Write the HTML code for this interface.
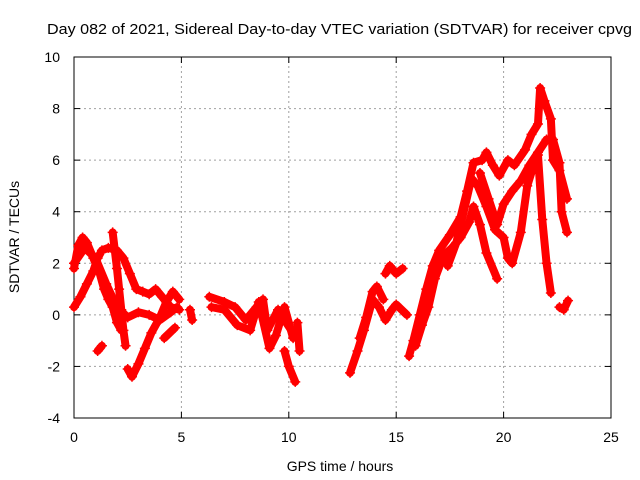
<!DOCTYPE html>
<html><head><meta charset="utf-8"><style>
body{margin:0;background:#fff}
svg{display:block;font-family:"Liberation Sans",sans-serif}
</style></head><body>
<svg id="chart" width="640" height="480" viewBox="0 0 640 480">
<rect width="640" height="480" fill="#fff"/>
<text x="47" y="34" font-size="15" textLength="585" lengthAdjust="spacingAndGlyphs">Day 082 of 2021, Sidereal Day-to-day VTEC variation (SDTVAR) for receiver cpvg</text>
<g id="grid"></g>
<g id="axes"></g>
<g id="marks"></g>
<text x="340" y="471" font-size="14" text-anchor="middle">GPS time / hours</text>
<text x="0" y="0" font-size="14" text-anchor="middle" transform="translate(19,237) rotate(-90)">SDTVAR / TECUs</text>
</svg>
<script>
const xTicks=[0,5,10,15,20,25];
const yTicks=[-4,-2,0,2,4,6,8,10];
const tracks=[
[[0,0.3],[0.3,0.7],[0.6,1.2],[0.9,1.7],[1.1,2.2],[1.3,2.5],[1.6,2.6],[2,2.5],[2.3,2.2],[2.6,1.6],[2.9,1.0],[3.2,0.9],[3.5,0.8],[3.8,1.0],[4.1,0.7],[4.5,0.3],[4.9,0.2]],
[[0,1.8],[0.2,2.7],[0.4,3.0],[0.6,2.8],[0.9,2.2],[1.2,1.6],[1.4,1.0],[1.6,0.6],[1.8,0.3],[2.0,-0.3],[2.2,-0.6]],
[[0,2.0],[0.5,2.6],[1,2.2],[1.5,1.2],[2,0.3],[2.5,-0.1],[3,0.1],[3.5,0.0],[4,-0.2],[4.5,0.1],[4.8,0.3]],
[[1.8,3.2],[1.9,2.5],[2.0,1.8],[2.1,1.0],[2.2,0.2],[2.3,-0.6],[2.4,-1.2]],
[[2.5,-2.1],[2.7,-2.4],[3.0,-1.9],[3.3,-1.3],[3.6,-0.7],[4.0,-0.1],[4.3,0.5],[4.6,0.9],[4.9,0.6]],
[[1.1,-1.4],[1.3,-1.2]],
[[4.2,-0.9],[4.7,-0.5]],
[[5.4,0.2],[5.5,-0.2]],
[[6.3,0.7],[7,0.5],[7.5,0.3],[8,-0.2],[8.5,0.3],[8.8,0.6],[9,-0.6],[9.5,0.2],[9.8,-0.2],[10.2,-0.7]],
[[6.4,0.3],[7,0.2],[7.6,-0.4],[8.2,-0.6],[8.6,0.5],[9.1,-1.3],[9.4,-0.8],[9.8,0.3],[10.2,-0.9]],
[[9.8,-1.4],[10.0,-2.0],[10.3,-2.6]],
[[10.4,-0.3],[10.5,-1.4]],
[[12.85,-2.25],[13.2,-1.4],[13.5,-0.6],[13.9,0.6],[14.2,0.3],[14.5,-0.2],[14.8,0.2],[15.0,0.4],[15.5,0.0]],
[[13.3,-0.9],[13.6,-0.1],[13.9,0.9],[14.1,1.1],[14.4,0.6]],
[[14.5,1.6],[14.7,1.9],[15.0,1.6],[15.3,1.8]],
[[15.6,-1.6],[15.8,-1.0],[16.1,0.0],[16.4,1.0],[16.7,1.9],[17.0,2.5],[17.5,3.1],[18.0,3.8],[18.3,4.8],[18.6,5.9],[19.0,6.0],[19.2,6.3],[19.5,5.8],[19.8,5.4],[20.2,6.0],[20.5,5.8],[21.0,6.4],[21.3,7.0],[21.6,7.4],[21.7,8.8],[21.9,8.3],[22.2,7.6],[22.3,6.0],[22.6,5.6],[22.95,4.5]],
[[15.9,-1.2],[16.2,-0.4],[16.5,0.3],[16.8,1.4],[17.2,2.3],[17.6,2.6],[18.0,3.0],[18.4,3.6],[18.6,4.2],[18.9,3.5],[19.2,2.4],[19.7,1.4]],
[[17.4,1.9],[17.8,2.8],[18.2,4.2],[18.5,5.3],[18.8,5.0],[19.2,4.2],[19.6,3.3],[20.0,3.0],[20.2,2.2],[20.4,2.0],[20.8,3.2],[21.1,5.0],[21.4,5.8],[21.6,6.2],[21.8,3.7],[22.0,2.0],[22.2,0.85]],
[[18.9,5.5],[19.3,4.5],[19.7,3.5],[20.0,4.3],[20.4,4.8],[20.8,5.2],[21.2,5.8],[21.6,6.3],[22.0,6.8],[22.3,6.8],[22.6,5.9],[22.7,4.0],[22.95,3.2]],
[[22.6,0.3],[22.8,0.2],[23.0,0.55]]
];
const NS="http://www.w3.org/2000/svg";
const X0=74,X1=611,Y0=418,Y1=57;
function sx(v){return X0+(v-0)/(25-0)*(X1-X0);}
function sy(v){return Y0-(v+4)/(14)*(Y0-Y1);}
function mk(t,a){const e=document.createElementNS(NS,t);for(const k in a)e.setAttribute(k,a[k]);return e;}
const grid=document.getElementById('grid'),axes=document.getElementById('axes'),marks=document.getElementById('marks');
xTicks.forEach(t=>{
  const x=sx(t);
  if(t>0&&t<25){const g=mk('line',{x1:x,y1:Y0,x2:x,y2:Y1,stroke:'#a0a0a0','stroke-dasharray':'2,3'});
  
  
  grid.appendChild(g);}
  const l=mk('text',{x:x,y:Y0+24,'font-size':14,'text-anchor':'middle'});l.textContent=t;
  
  
  axes.appendChild(l);
  axes.appendChild(mk('line',{x1:x,y1:Y0,x2:x,y2:Y0-6,stroke:'#000'}));
  axes.appendChild(mk('line',{x1:x,y1:Y1,x2:x,y2:Y1+6,stroke:'#000'}));
});
yTicks.forEach(t=>{
  const y=sy(t);
  if(t>-4&&t<10){const g=mk('line',{x1:X0,y1:y,x2:X1,y2:y,stroke:'#a0a0a0','stroke-dasharray':'2,3'});
  
  
  grid.appendChild(g);}
  const l=mk('text',{x:X0-14,y:y+5,'font-size':14,'text-anchor':'end'});l.textContent=t;
  
  
  axes.appendChild(l);
  axes.appendChild(mk('line',{x1:X0,y1:y,x2:X0+6,y2:y,stroke:'#000'}));
  axes.appendChild(mk('line',{x1:X1,y1:y,x2:X1-6,y2:y,stroke:'#000'}));
});
const frame=mk('rect',{x:X0,y:Y1,width:X1-X0,height:Y0-Y1,fill:'none',stroke:'#000'});


axes.appendChild(frame);
tracks.forEach(tr=>{
  const g=mk('g',{});
  
  
  const pts=tr.map(p=>sx(p[0])+','+sy(p[1])).join(' ');
  g.appendChild(mk('polyline',{points:pts,fill:'none',stroke:'#f00','stroke-width':8,'stroke-linejoin':'round','stroke-linecap':'round'}));
  tr.forEach(p=>{
    const x=sx(p[0]),y=sy(p[1]);
    const m=mk('path',{d:`M${x-5},${y}h10M${x},${y-5}v10`,stroke:'#f00','stroke-width':1.5});
    
    
    g.appendChild(m);
  });
  marks.appendChild(g);
});
</script>
</body></html>
